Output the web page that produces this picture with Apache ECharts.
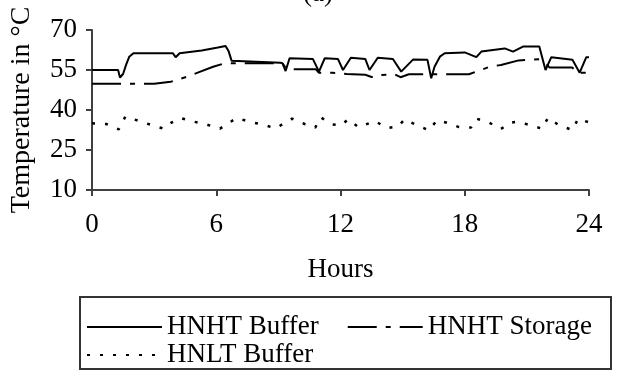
<!DOCTYPE html>
<html>
<head>
<meta charset="utf-8">
<title>Temperature</title>
<script src="https://cdn.jsdelivr.net/npm/echarts@6/dist/echarts.min.js"></script>
<style>
  html, body { margin: 0; padding: 0; background: #fff; }
  #chart { width: 617px; height: 372px; }
</style>
</head>
<body>
<div id="chart"></div>
<script>
// 数据：[小时, 温度]
const hnhtBuffer = [
  [0, 55], [1.26, 55], [1.35, 52.2], [1.5, 53.5], [1.65, 57], [1.8, 60], [2.0, 61.3],
  [3.9, 61.3], [4.04, 59.8], [4.23, 61.3], [5.3, 62.3], [6.08, 63.4], [6.45, 64],
  [6.6, 62], [6.74, 58.5], [9.1, 57.7], [9.2, 57.5], [9.35, 54.6], [9.54, 59.4],
  [10.67, 59.1], [10.96, 54.4], [11.24, 59.4], [11.88, 59.1], [12.12, 55], [12.5, 59.6],
  [13.2, 59.1], [13.4, 55], [13.8, 59.6], [14.53, 59.1], [14.93, 54.4], [15.5, 58.9],
  [16.2, 58.8], [16.38, 51.9], [16.54, 56.2], [16.8, 60], [17.03, 61.3], [18.0, 61.6],
  [18.56, 59.8], [18.8, 61.9], [19.93, 63.1], [20.33, 61.9], [20.81, 63.8], [21.6, 63.8],
  [21.9, 55], [22.18, 59.8], [23.2, 58.8], [23.55, 54], [23.87, 59.8], [24, 59.8]
];

const hnhtStorage = [
  [0, 49.8], [3.0, 49.8], [3.8, 50.6], [4.6, 52.5], [5.2, 54.3], [5.85, 56.2], [6.4, 57.5],
  [9.2, 57.5], [9.4, 55.3], [10.8, 55.3], [10.95, 54], [11.6, 54], [12.3, 53.5],
  [13.2, 53.2], [13.5, 52.4], [13.8, 52.4], [14.0, 53.1], [14.6, 53.4], [14.9, 52.3],
  [15.3, 53.4], [18.2, 53.4], [19.2, 56.2], [19.75, 56.9], [20.6, 58.6], [21.6, 59],
  [21.9, 57.5], [22.1, 55.9], [23.2, 55.9], [23.4, 54], [24, 54]
];

const hnltBuffer = [
  [0, 35], [0.69, 34.75], [1.29, 32.75], [1.61, 37.5], [2.22, 36], [2.82, 34.5], [3.46, 33],
  [3.83, 35.25], [4.28, 37], [4.93, 35.6], [5.55, 34.5], [6.18, 33], [6.57, 35], [6.99, 37],
  [7.6, 35.6], [8.26, 34.5], [8.87, 33.1], [9.27, 35], [9.66, 36.75], [10.27, 34.75],
  [10.78, 33.4], [11.04, 37.25], [11.59, 34.6], [12.04, 34.2], [12.36, 36.5], [12.88, 33.5],
  [13.33, 34.9], [13.65, 35.9], [14.24, 33.25], [14.77, 33.75], [15.1, 36.5], [15.66, 34.4],
  [16.26, 32.4], [16.66, 36.1], [17.13, 35.25], [17.72, 33.6], [18.3, 33.4], [18.57, 36.75],
  [19.18, 35.25], [19.75, 32.9], [20.2, 35.25], [20.58, 35.6], [21.18, 34.25], [21.74, 33],
  [22.02, 37.1], [22.56, 34.25], [23.19, 32.5], [23.48, 36.75], [23.98, 35.4]
];

const seriesNames = ["HNHT Buffer", "HNHT Storage", "HNLT Buffer"];
const xTicks = [0, 6, 12, 18, 24];
const yTicks = [10, 25, 40, 55, 70];

const FONT = "'Liberation Serif', 'Times New Roman', serif";
const AXIS_COLOR = "#404040";

const chart = echarts.init(document.getElementById("chart"));

// 图例公共样式（不显示圆点，只画线）
const legendBase = {
  left: 86,
  padding: 0,
  itemWidth: 75,
  itemHeight: 14,
  itemGap: 28,
  itemStyle: { opacity: 0 },
  textStyle: { fontFamily: FONT, fontSize: 27, color: "#000", lineHeight: 28 },
};

const option = {
  animation: false,
  title: {
    text: "(a)",
    left: 298,
    top: -25,
    textStyle: { fontFamily: FONT, fontSize: 27, fontWeight: "normal", color: "#000" },
  },
  grid: { left: 92, right: 28, top: 30, bottom: 182 },
  xAxis: {
    type: "value",
    min: xTicks[0],
    max: xTicks[xTicks.length - 1],
    interval: 6,
    name: "Hours",
    nameLocation: "middle",
    nameGap: 66,
    nameTextStyle: { fontFamily: FONT, fontSize: 27, color: "#000" },
    axisLine: { lineStyle: { color: AXIS_COLOR, width: 2 } },
    axisTick: { show: true, inside: false, length: 6, lineStyle: { color: AXIS_COLOR, width: 2 } },
    axisLabel: { fontFamily: FONT, fontSize: 27, color: "#000", margin: 21 },
    splitLine: { show: false },
  },
  yAxis: {
    type: "value",
    min: yTicks[0],
    max: yTicks[yTicks.length - 1],
    interval: 15,
    name: "Temperature in °C",
    nameLocation: "middle",
    nameGap: 56,
    nameTextStyle: { fontFamily: FONT, fontSize: 28, color: "#000" },
    axisLine: { show: true, lineStyle: { color: AXIS_COLOR, width: 2 } },
    axisTick: { show: true, inside: false, length: 6, lineStyle: { color: AXIS_COLOR, width: 2 } },
    axisLabel: { fontFamily: FONT, fontSize: 27, color: "#000", margin: 15 },
    splitLine: { show: false },
  },
  // 图例分两行，外框用 graphic 画
  legend: [
    Object.assign({}, legendBase, { data: [seriesNames[0], seriesNames[1]], top: 313 }),
    Object.assign({}, legendBase, { data: [seriesNames[2]], top: 341 }),
  ],
  graphic: [
    {
      type: "rect",
      shape: { x: 80, y: 297, width: 531, height: 72 },
      style: { fill: "none", stroke: "#333", lineWidth: 2 },
      silent: true,
    },
  ],
  series: [
    {
      name: seriesNames[0],
      type: "line",
      data: hnhtBuffer,
      symbol: "none",
      lineStyle: { color: "#000", width: 2 },
      itemStyle: { color: "#000" },
    },
    {
      name: seriesNames[1],
      type: "line",
      data: hnhtStorage,
      symbol: "none",
      // 长划-短划
      lineStyle: { color: "#000", width: 2, type: [29, 9, 5, 9] },
      itemStyle: { color: "#000" },
    },
    {
      name: seriesNames[2],
      type: "line",
      data: hnltBuffer,
      symbol: "none",
      lineStyle: { color: "#000", width: 2.5, type: [3, 10] },
      itemStyle: { color: "#000" },
    },
  ],
};

chart.setOption(option);
</script>
</body>
</html>
